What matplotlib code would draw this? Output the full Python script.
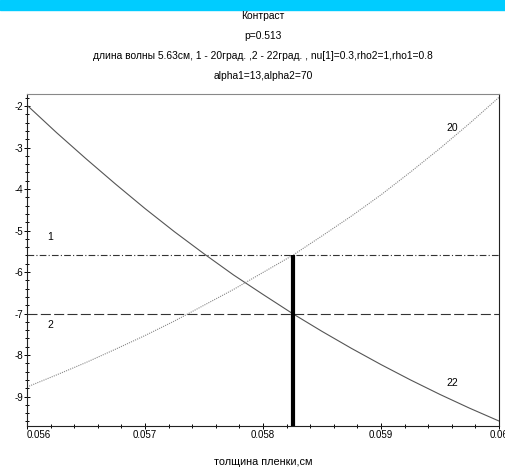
import numpy as np
import matplotlib
matplotlib.use('Agg')
import matplotlib.pyplot as plt
from matplotlib.ticker import MultipleLocator, FixedLocator
from matplotlib.patches import Rectangle

plt.rcParams['font.family'] = ['Liberation Sans', 'DejaVu Sans']

# film thickness, cm
thickness = [0.056, 0.05625, 0.0565, 0.05675, 0.057, 0.05725, 0.0575, 0.05775, 0.058,
             0.05825, 0.0585, 0.05875, 0.059, 0.05925, 0.0595, 0.05975, 0.060]
# contrast for 20 deg
contrast_20 = [-8.77, -8.48, -8.18, -7.86, -7.53, -7.18, -6.80, -6.42, -6.01,
               -5.60, -5.13, -4.65, -4.14, -3.59, -3.02, -2.42, -1.79]
# contrast for 22 deg
contrast_22 = [-1.98, -2.64, -3.27, -3.88, -4.47, -5.03, -5.56, -6.07, -6.54,
               -7.00, -7.43, -7.84, -8.23, -8.60, -8.95, -9.28, -9.59]
level_1 = -5.6
level_2 = -7.0
x_cross = 0.05825

x_ticks = [0.056, 0.057, 0.058, 0.059, 0.060]
x_tick_labels = ['0.056', '0.057', '0.058', '0.059', '0.06']
y_ticks = [-9, -8, -7, -6, -5, -4, -3, -2]

W, H = 506, 474
fig = plt.figure(figsize=(W / 100, H / 100), dpi=100)
fig.patches.append(Rectangle((0, 1 - 10 / H), 1, 10 / H, transform=fig.transFigure,
                             color='#00ccff', zorder=0))

ax = fig.add_axes([27 / W, 1 - 426 / H, 472 / W, 332 / H])
ax.set_xlim(0.056, 0.060)
ax.set_ylim(-9.71, -1.71)

ax.plot(thickness, contrast_22, color='#555555', lw=0.8)
ax.plot(thickness, contrast_20, color='#888888', lw=0.8, linestyle=(0, (1, 1)))
ax.axhline(level_1, color='#333333', lw=0.8, linestyle=(0, (6, 2, 1, 2)))
ax.axhline(level_2, color='#333333', lw=0.8, linestyle=(0, (9, 3)))
ax.plot([x_cross, x_cross], [level_1, -9.71], color='black', lw=3, solid_capstyle='butt')

ax.text(0.056195, -5.16, '1', fontsize=7.5, ha='center', va='center')
ax.text(0.056195, -7.28, '2', fontsize=7.5, ha='center', va='center')
ax.text(0.059602, -2.53, '20', fontsize=7.5, ha='center', va='center')
ax.text(0.059602, -8.67, '22', fontsize=7.5, ha='center', va='center')

ax.xaxis.set_major_locator(FixedLocator(x_ticks))
ax.set_xticklabels(x_tick_labels)
ax.get_xticklabels()[0].set_ha('left')
ax.xaxis.set_minor_locator(MultipleLocator(0.0002))
ax.yaxis.set_major_locator(FixedLocator(y_ticks))
ax.set_yticklabels([str(v) for v in y_ticks])
ax.yaxis.set_minor_locator(MultipleLocator(0.2))
ax.tick_params(which='both', direction='inout', length=4, width=0.7, labelsize=7, pad=1)
ax.tick_params(which='minor', length=3)
for side in ['left', 'bottom', 'right']:
    ax.spines[side].set_color('#222222')
    ax.spines[side].set_linewidth(0.8)
ax.spines['top'].set_color('#888888')
ax.spines['top'].set_linewidth(0.8)

cx = (27 + 499) / 2 / W
titles = ['Контраст', 'p=0.513',
          'длина волны 5.63см, 1 - 20град. ,2 - 22град. , nu[1]=0.3,rho2=1,rho1=0.8',
          'alpha1=13,alpha2=70']
for i, t in enumerate(titles):
    fig.text(cx, 1 - (16 + 20 * i) / H, t, fontsize=7.4, ha='center', va='center')
fig.text(cx, 1 - 462 / H, 'толщина пленки,см', fontsize=7.8, ha='center', va='center')

fig.savefig('out.png', dpi=100)
